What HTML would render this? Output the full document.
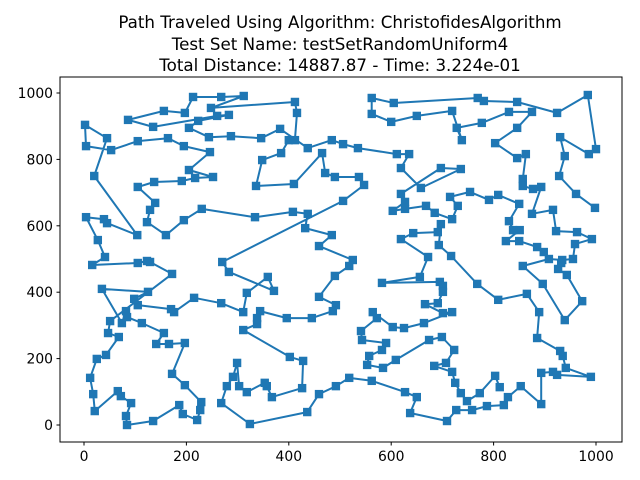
<!DOCTYPE html>
<html><head><meta charset="utf-8"><style>
html,body{margin:0;padding:0;background:#fff;}
svg{display:block;font-family:"DejaVu Sans","Liberation Sans",sans-serif;}
</style></head><body>
<svg id="chart" width="640" height="480" viewBox="0 0 640 480">
<rect x="0" y="0" width="640" height="480" fill="#fff"/>
<g font-size="16.7" text-anchor="middle" fill="#000">
<text x="340" y="28">Path Traveled Using Algorithm: ChristofidesAlgorithm</text>
<text x="340" y="50">Test Set Name: testSetRandomUniform4</text>
<text x="340" y="71">Total Distance: 14887.87 - Time: 3.224e-01</text>
</g>
<g id="axes"></g>
<g id="marks"></g>
<rect x="60" y="77" width="562" height="365" fill="none" stroke="#000" stroke-width="1"/>
</svg>
<script>
const aX=[270,506,547,537,490,471,465,410,336,348,385,400,412,416,412,248,312,268,213,197,156,86,135,260,283,223,205,244,287,346,383,437,484,506,535,611,635,619,658,736,697,619,627,603,627,668,685,719,730,715,754,791,809,850,830,838,851,824,850,885,898,908,934,955,959,992,963,922,916,875,893,877,857,857,863,846,803,846,875,830,777,728,738,719,650,600,562,562,605,769,781,846,924,984,1000,986,930,939,928,961,998];
const aY=[491,675,723,747,747,759,819,726,720,798,819,858,858,940,973,955,991,988,988,940,946,919,898,931,934,916,895,867,870,864,892,834,858,846,834,816,816,774,714,771,774,696,672,645,651,660,639,620,660,687,702,678,693,666,614,587,587,554,554,536,521,500,497,500,545,560,581,584,648,636,717,711,720,741,816,804,849,895,943,943,910,895,858,946,931,913,937,985,970,985,976,973,940,994,831,816,867,810,750,696,654];
const bX=[270,283,371,359,318,311,268,215,176,170,105,98,125,35,74,82,84,113,156,141,166,197,172,197,229,227,221,193,186,135,84,82,92,72,66,21,18,12,25,43,68,47,51,172,129,123,105,16,41,27,4,39,45,104,20,45,2,4,53,105,164,195,246,205,252,217,191,137,105,139,129,123,160,195,230,334,408,437,432,484,459,525,518,490,459,492,486,445,396,344,338,338,311,402,428,426,367,357,353,318,303,299,291,279,268,324,436,459,492,518,562,627,650,637,709,727,758,787,820,828,853,893,893,916,924,990,941,935,930,885,889,865,809,768,717,693,697,691,643,619,672,656,582,695,701,701,691,666,701,719,664,625,603,564,572,541,543,590,582,557,553,584,609,674,699,723,707,684,719,725,736,748,773,803,812];
const bY=[491,461,404,446,398,340,367,383,340,349,361,380,401,410,307,343,325,307,277,244,244,247,154,120,69,45,15,33,60,12,0,27,66,87,102,42,93,142,199,211,265,277,313,455,491,494,488,482,506,557,626,620,608,572,750,864,904,840,828,855,864,840,822,768,747,744,735,732,717,669,648,611,572,617,651,626,642,636,593,572,539,497,479,449,386,361,343,322,322,343,322,304,286,205,193,111,84,117,127,99,117,187,145,117,66,3,39,93,117,142,133,99,84,36,12,45,45,57,60,84,117,63,157,160,151,145,172,208,223,262,340,395,377,425,509,542,605,581,578,560,506,446,428,431,419,401,367,364,337,340,307,292,295,340,322,283,256,247,226,208,181,172,196,256,265,226,187,178,160,127,96,72,96,148,114];
const cX=[908,857,896,939,973,943,926,932];
const cY=[500,479,425,316,373,452,470,488];
const xTicks=[0,200,400,600,800,1000];
const yTicks=[0,200,400,600,800,1000];
const NS='http://www.w3.org/2000/svg';
function sx(v){return 84+v*0.512;}
function sy(v){return 425-v*0.332;}
const axes=document.getElementById('axes');
const marks=document.getElementById('marks');
function mk(tag,attrs,parent){const e=document.createElementNS(NS,tag);for(const k in attrs)e.setAttribute(k,attrs[k]);parent.appendChild(e);return e;}
xTicks.forEach(t=>{
  const l=mk('line',{x1:sx(t),x2:sx(t),y1:442,y2:445.5,stroke:'#000','stroke-width':1},axes);
  
  
  const tx=mk('text',{x:sx(t),y:461,'font-size':13.9,'text-anchor':'middle',fill:'#000'},axes);
  tx.textContent=t;
  
  
});
yTicks.forEach(t=>{
  const l=mk('line',{x1:56.5,x2:60,y1:sy(t),y2:sy(t),stroke:'#000','stroke-width':1},axes);
  
  
  const tx=mk('text',{x:53,y:sy(t)+5,'font-size':13.9,'text-anchor':'end',fill:'#000'},axes);
  tx.textContent=t;
  
  
});
const routeX=aX.slice().reverse().concat(bX.slice(1));
const routeY=aY.slice().reverse().concat(bY.slice(1));
function pathD(xs,ys){let d='';xs.forEach((x,i)=>{d+=(i?'L':'M')+sx(x).toFixed(1)+' '+sy(ys[i]).toFixed(1);});return d;}
const p=mk('path',{d:pathD(routeX,routeY)+pathD(cX,cY),fill:'none',stroke:'#1f77b4','stroke-width':2,'stroke-linejoin':'round'},marks);


const allX=routeX.concat(cX.slice(1));
const allY=routeY.concat(cY.slice(1));
allX.forEach((x,i)=>{
  const r=mk('rect',{x:sx(x)-4.2,y:sy(allY[i])-4.2,width:8.4,height:8.4,fill:'#1f77b4'},marks);
  
  
});
</script>
</body></html>
